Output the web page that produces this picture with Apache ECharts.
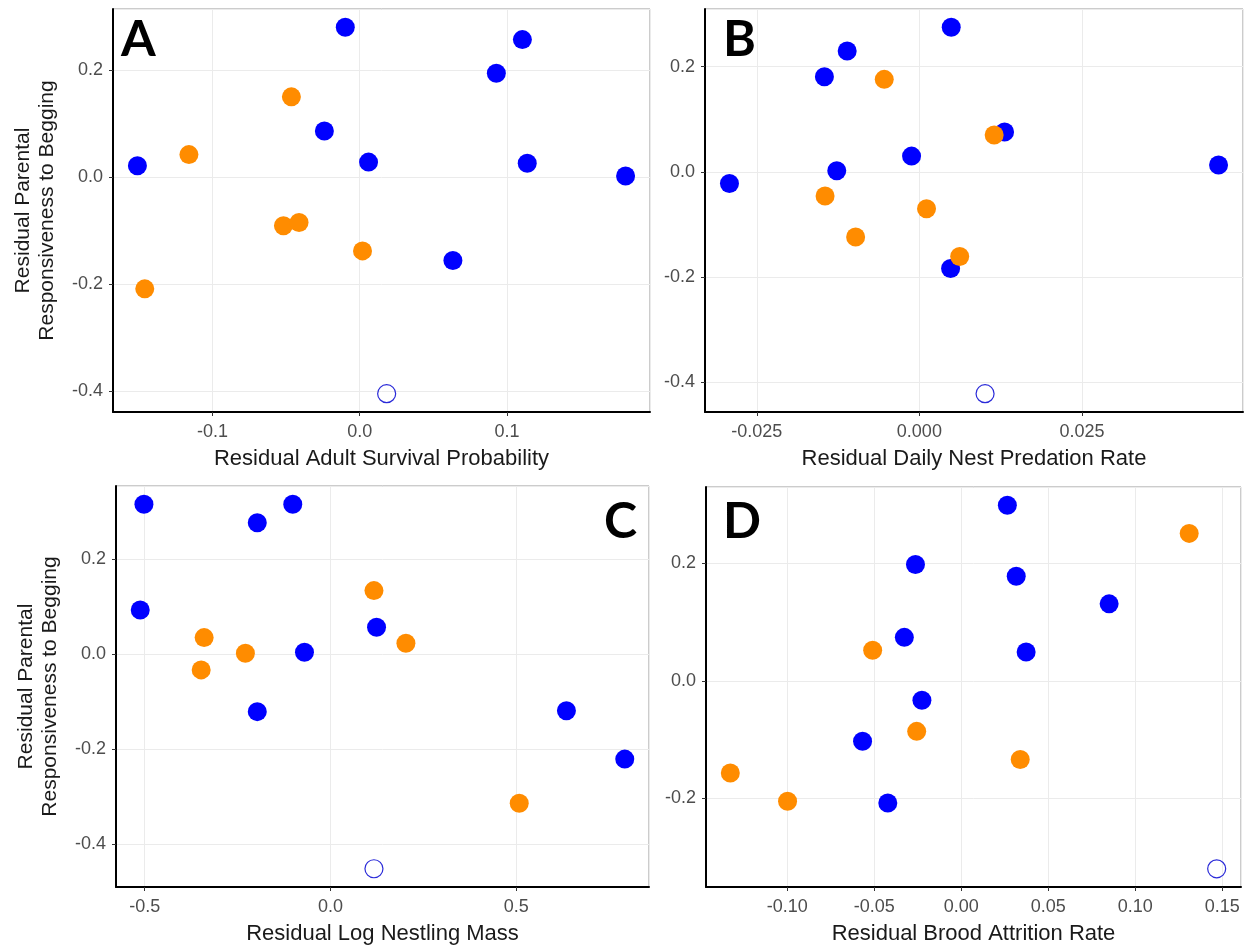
<!DOCTYPE html>
<html>
<head>
<meta charset="utf-8">
<script src="https://cdn.jsdelivr.net/npm/echarts@6/dist/echarts.min.js"></script>
<style>
  html, body { margin: 0; padding: 0; background: #fff; }
  #main { width: 1255px; height: 950px; }
</style>
</head>
<body>
<div id="main"></div>
<script>
// panel A: residual adult survival probability
var aBlue = [[-0.0098, 0.280], [0.1105, 0.257], [0.0928, 0.194], [-0.024, 0.086], [-0.151, 0.021],
             [0.006, 0.028], [0.1138, 0.026], [0.1806, 0.002], [0.0633, -0.156]];
var aOrange = [[-0.0464, 0.150], [-0.116, 0.042], [-0.0518, -0.091], [-0.0412, -0.085], [0.0019, -0.138], [-0.146, -0.209]];
var aOpen = [[0.0183, -0.405]];

// panel B: residual daily nest predation rate
var bBlue = [[0.0049, 0.275], [-0.0111, 0.230], [-0.0146, 0.181], [0.0131, 0.076], [-0.0012, 0.030],
             [-0.0127, 0.002], [-0.0292, -0.022], [0.0460, 0.013], [0.0048, -0.184]];
var bOrange = [[-0.0054, 0.176], [0.0115, 0.070], [-0.0145, -0.046], [0.0011, -0.070], [-0.0098, -0.124], [0.0062, -0.161]];
var bOpen = [[0.0101, -0.422]];

// panel C: residual log nestling mass
var cBlue = [[-0.502, 0.316], [-0.1015, 0.316], [-0.197, 0.277], [-0.512, 0.093], [0.124, 0.057],
             [-0.070, 0.004], [-0.197, -0.121], [0.635, -0.119], [0.792, -0.221]];
var cOrange = [[0.117, 0.134], [-0.340, 0.035], [-0.229, 0.002], [-0.348, -0.033], [0.203, 0.023], [0.508, -0.314]];
var cOpen = [[0.117, -0.452]];

// panel D: residual brood attrition rate
var dBlue = [[0.0265, 0.299], [-0.0263, 0.198], [0.0316, 0.178], [0.085, 0.131], [-0.0327, 0.074],
             [0.0373, 0.049], [-0.0226, -0.033], [-0.0567, -0.103], [-0.0422, -0.208]];
var dOrange = [[0.131, 0.251], [-0.0509, 0.052], [-0.0256, -0.086], [0.0339, -0.134], [-0.1327, -0.157], [-0.0998, -0.205]];
var dOpen = [[0.1468, -0.320]];

var panelLetters = ['A', 'B', 'C', 'D'];
var xTitles = ['Residual Adult Survival Probability', 'Residual Daily Nest Predation Rate',
               'Residual Log Nestling Mass', 'Residual Brood Attrition Rate'];
var yTitle = 'Residual Parental\nResponsiveness to Begging';
var xSteps = [0.1, 0.025, 0.5, 0.05];
var xDigits = [1, 3, 1, 2];
var ySteps = [0.2, 0.2, 0.2, 0.2];

var panels = [
	[aBlue, aOrange, aOpen],
	[bBlue, bOrange, bOpen],
	[cBlue, cOrange, cOpen],
	[dBlue, dOrange, dOpen]
];

// ggplot style 5% expansion of the data range
function expand(sets, k)
{
	var lo = Infinity, hi = -Infinity;
	sets.forEach(function(s) { s.forEach(function(p) { lo = Math.min(lo, p[k]); hi = Math.max(hi, p[k]); }); });
	var pad = (hi - lo) * 0.05;
	return [lo - pad, hi + pad];
}

var grids = [
	{ left: 113, top: 9, width: 537, height: 403 },
	{ left: 705, top: 9, width: 538, height: 403 },
	{ left: 116, top: 486, width: 533, height: 401 },
	{ left: 706, top: 487, width: 535, height: 400 }
];

var labelFont = 'Liberation Sans';
var xAxes = [], yAxes = [], series = [], graphics = [];

panels.forEach(function(sets, i)
{
	grids[i].show = true;
	grids[i].borderColor = '#999';
	grids[i].borderWidth = 1;
	grids[i].backgroundColor = '#fff';

	var xr = expand(sets, 0), yr = expand(sets, 1);
	var common = function(step, digits)
	{
		return {
			type: 'value',
			scale: true,
			minInterval: step,
			maxInterval: step,
			splitNumber: 4,
			axisLine: { show: true, onZero: false, lineStyle: { color: '#000', width: 2 } },
			axisTick: { show: true, length: 4, lineStyle: { color: '#333' } },
			axisLabel: {
				showMinLabel: false, showMaxLabel: false,
				color: '#4d4d4d', fontSize: 18, fontFamily: labelFont,
				formatter: function(v) { return v.toFixed(digits); }
			},
			splitLine: { show: true, lineStyle: { color: '#ebebeb', width: 1 } }
		};
	};

	var xa = common(xSteps[i], xDigits[i]);
	xa.gridIndex = i;
	xa.min = xr[0];
	xa.max = xr[1];
	xa.name = xTitles[i];
	xa.nameLocation = 'middle';
	xa.nameGap = 36;
	xa.nameTextStyle = { color: '#1a1a1a', fontSize: 22, fontFamily: labelFont };
	xa.axisLabel.margin = 11;
	xAxes.push(xa);

	var ya = common(ySteps[i], 1);
	ya.gridIndex = i;
	ya.min = yr[0];
	ya.max = yr[1];
	ya.axisLabel.margin = 10;
	if (i === 0 || i === 2)
	{
		ya.name = yTitle;
		ya.nameLocation = 'middle';
		ya.nameRotate = 90;
		ya.nameGap = 54;
		ya.nameTextStyle = { color: '#1a1a1a', fontSize: 21, fontFamily: labelFont, lineHeight: 24 };
	}
	yAxes.push(ya);

	series.push({
		type: 'scatter', xAxisIndex: i, yAxisIndex: i, data: sets[0],
		symbolSize: 19, itemStyle: { color: '#0000ff', opacity: 1 }, silent: true
	});
	series.push({
		type: 'scatter', xAxisIndex: i, yAxisIndex: i, data: sets[1],
		symbolSize: 19, itemStyle: { color: '#ff8c00', opacity: 1 }, silent: true
	});
	series.push({
		type: 'scatter', xAxisIndex: i, yAxisIndex: i, data: sets[2],
		symbolSize: 18, itemStyle: { color: 'rgba(0,0,0,0)', borderColor: '#2a2ad8', borderWidth: 1.2, opacity: 1 }, silent: true
	});
});

var letterPos = [[121, 40], [723, 40], [604, 522], [723, 522]];
panelLetters.forEach(function(t, i)
{
	graphics.push({
		type: 'text', x: letterPos[i][0], y: letterPos[i][1], z: 100,
		style: {
			text: t, fill: '#000', font: 'bold 50px Lato',
			align: 'left', verticalAlign: 'middle',
			textAlign: 'left', textVerticalAlign: 'middle'
		}
	});
});

var chart = echarts.init(document.getElementById('main'));
chart.setOption({
	animation: false,
	grid: grids,
	xAxis: xAxes,
	yAxis: yAxes,
	series: series,
	graphic: graphics
});
</script>
</body>
</html>
